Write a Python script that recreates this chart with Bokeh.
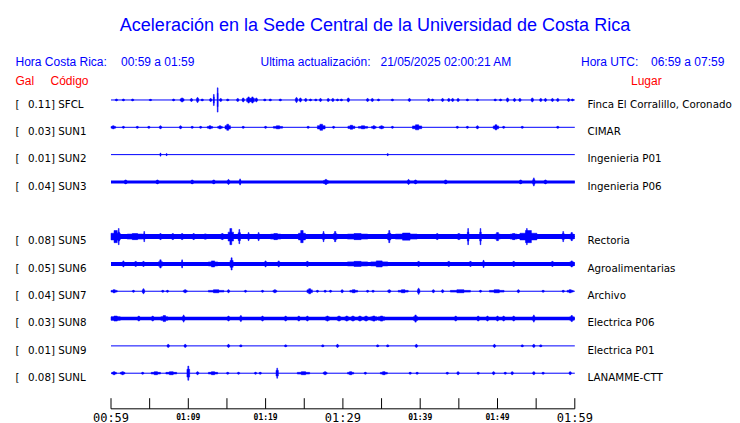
from bokeh.plotting import figure
from bokeh.models import Range1d
from bokeh.core.properties import value
from bokeh.embed import file_html
from bokeh.resources import INLINE

# ---------------- data ----------------
CODES = ["SFCL", "SUN1", "SUN2", "SUN3", "SUN5", "SUN6", "SUN7", "SUN8", "SUN9", "SUNL"]
GAL = [0.11, 0.03, 0.01, 0.04, 0.08, 0.05, 0.04, 0.03, 0.01, 0.08]
PLACES = ["Finca El Corralillo, Coronado", "CIMAR", "Ingenieria P01", "Ingenieria P06",
          "Rectoria", "Agroalimentarias", "Archivo", "Electrica P06", "Electrica P01", "LANAMME-CTT"]
SLOTS = [0, 1, 2, 3, 5, 6, 7, 8, 9, 10]          # SUN4 slot empty
NOISE = [0.5, 0.5, 0.5, 1.5, 2.5, 2.0, 0.5, 1.7, 0.5, 0.5]   # background half-amplitude

# bursts: (minute after 00:59, half-amplitude, [duration in minutes])
SFCL_B = [(0.7, 1), (1.6, 1), (2.8, 1), (5.1, 0.7), (8.1, 1), (9.2, 2, 0.5), (10.4, 1.5), (11.2, 2.5),
          (11.8, 1), (12.9, 1.5), (13.3, 5.5, 0.1), (13.8, 12, 0.1), (14.2, 1.5), (15.1, 1), (16.4, 1.5),
          (17.1, 2), (17.8, 3, 0.5), (18.3, 3, 0.5), (18.8, 2), (19.9, 1), (20.6, 1), (21.9, 1), (24.0, 2.5),
          (24.5, 2), (25.2, 1.5), (25.8, 1), (26.5, 1), (27.1, 1.5), (28.1, 1.5), (28.7, 1.5), (29.3, 1),
          (29.8, 1), (30.7, 2), (33.2, 1.5), (33.8, 1.5), (34.6, 1), (36.4, 1), (38.6, 1.5), (41.1, 1.5),
          (41.6, 1), (42.9, 1.5), (43.7, 1.5), (44.2, 1.5), (44.9, 1.5), (46.1, 1), (47.4, 1), (49.7, 1),
          (50.4, 1), (51.3, 2), (52.2, 1.5), (52.9, 1.5), (54.5, 2), (55.6, 1.5), (56.2, 1.5), (57.1, 1.5),
          (57.8, 1.5), (59.2, 1.5), (59.7, 1)]
SUN1_B = [(0.3, 1.5, 0.6), (1.6, 1), (3.4, 1), (4.9, 1), (6.4, 1.5), (9.0, 1.5), (10.5, 1), (11.6, 1),
          (12.8, 1.5, 0.7), (14.1, 1.5, 0.6), (15.1, 3, 0.7), (17.1, 1), (20.0, 1), (21.6, 1.5, 1.2),
          (25.5, 1), (27.2, 3, 1.0), (28.8, 1), (31.1, 2, 0.9), (32.6, 1.5, 1.2), (34.0, 1.5, 0.6),
          (35.0, 1.5, 0.6), (36.4, 1), (39.6, 2.5, 1.2), (44.8, 1), (46.1, 1), (47.4, 1.5),
          (49.8, 2.5, 0.7), (50.8, 1), (53.2, 1), (57.8, 1)]
SUN2_B = [(6.4, 1.5, 0.1), (7.2, 1, 0.1), (35.8, 1, 0.1)]
SUN3_B = [(1.9, 2), (6.0, 2), (10.5, 2), (13.3, 2), (15.2, 2.5), (16.7, 3, 0.2), (27.8, 2.5, 0.6),
          (38.5, 2.5), (39.4, 2), (43.3, 2), (53.0, 2), (54.7, 4, 0.3), (56.2, 2)]
SUN5_B = [(0.6, 6, 1.2), (1.0, 8, 0.2), (3.1, 3, 2.0), (4.3, 5, 0.15), (6.4, 3), (8.0, 3), (9.2, 3),
          (10.7, 3), (12.2, 2.5), (14.4, 3, 0.4), (15.5, 8, 0.7), (16.6, 7, 0.3), (17.8, 4), (19.1, 4),
          (21.3, 3, 1.3), (24.7, 6, 0.9), (27.5, 5), (29.0, 5, 0.5), (31.9, 3, 2.6), (36.0, 6, 0.4),
          (38.2, 3.5, 2.8), (42.2, 3), (45.0, 3, 0.4), (46.2, 8, 0.2), (47.8, 8, 0.2), (50.0, 4, 0.7),
          (52.1, 3, 0.9), (54.0, 6, 2.2), (53.8, 8, 0.2), (58.5, 5), (59.6, 4, 0.5)]
SUN6_B = [(1.6, 3), (3.2, 2.5), (4.2, 2.5), (6.4, 4, 0.5), (9.2, 4, 0.15), (13.2, 3, 1.2), (15.6, 6, 0.4),
          (20.0, 3), (21.7, 3), (25.4, 2.5), (31.9, 2.5, 2.6), (34.7, 3, 2.2), (39.8, 2.5), (43.7, 2.5),
          (46.5, 2.5), (48.2, 3.5), (52.1, 2.5), (57.1, 2.5), (59.6, 3, 0.5)]
SUN7_B = [(0.4, 1.5, 0.8), (2.9, 1), (4.2, 2.5), (6.7, 1), (7.3, 1), (9.6, 1.5, 0.5), (13.6, 1.5, 2.0),
          (15.2, 1.5), (17.4, 1), (19.6, 1), (21.2, 1.5, 0.5), (25.7, 2.5, 0.7), (26.7, 1), (27.7, 1),
          (28.4, 1), (29.9, 1.5), (31.4, 1.5, 1.0), (33.2, 1), (33.9, 1), (36.0, 1.5, 0.4),
          (37.8, 1.5, 1.3), (39.8, 3), (41.7, 1.5), (42.9, 1.5), (45.2, 1.5, 2.6), (47.8, 1),
          (49.9, 1.5, 1.9), (52.7, 1.5), (55.9, 1), (58.5, 1), (59.4, 1.5, 0.8)]
SUN8_B = [(0.6, 2.5, 1.2), (3.6, 2.5), (5.4, 2.5), (6.9, 3, 0.9), (9.4, 3.5), (15.2, 2.5), (16.8, 3),
          (19.6, 2.5), (22.6, 2.5), (24.3, 2.5), (25.4, 2.5), (28.0, 2.5, 0.5), (29.5, 2.5, 0.5),
          (30.5, 2.5, 0.5), (31.3, 2.5, 0.5), (32.2, 2.5, 0.5), (33.0, 2.5, 0.5), (34.0, 2.5, 0.8),
          (35.0, 2.5, 0.8), (39.4, 3.5, 0.5), (44.6, 2.5), (47.5, 2.5), (48.7, 2.5), (50.0, 2.5),
          (50.8, 2.5), (52.1, 2.5), (54.7, 3.5), (59.6, 3, 0.5)]
SUN9_B = [(7.4, 1.5), (9.6, 1.5), (15.2, 1.5), (16.8, 1), (22.6, 1), (27.4, 1), (29.3, 1.5), (34.5, 1),
          (35.8, 1), (39.5, 1.5), (49.6, 1.5), (53.2, 1), (54.7, 1.5), (55.6, 1)]
SUNL_B = [(0.4, 1.5, 0.6), (1.5, 1.5, 0.6), (4.1, 1), (5.8, 1.5, 1.2), (7.8, 1.5, 1.4), (10.0, 7, 0.35),
          (11.2, 1.5), (13.2, 1.5, 1.2), (15.1, 1), (16.5, 1), (18.7, 1), (19.3, 1), (21.5, 5, 0.3),
          (24.9, 1.5, 1.6), (27.7, 1.5, 0.5), (31.0, 1.5, 0.8), (32.9, 1), (35.3, 1.5, 0.9), (38.7, 1),
          (39.6, 1), (43.5, 1), (44.9, 1.5), (47.5, 1), (49.5, 1.5), (51.0, 1), (51.9, 1.5), (54.7, 1.5),
          (55.9, 1), (59.4, 1.5)]
BURSTS = [SFCL_B, SUN1_B, SUN2_B, SUN3_B, SUN5_B, SUN6_B, SUN7_B, SUN8_B, SUN9_B, SUNL_B]

TICK_MIN = list(range(0, 61, 5))
BIG_TICKS = [0, 30, 60]
BIG_LABELS = ["00:59", "01:29", "01:59"]
SMALL_TICKS = [10, 20, 40, 50]
SMALL_LABELS = ["01:09", "01:19", "01:39", "01:49"]

TITLE = "Aceleración en la Sede Central de la Universidad de Costa Rica"
HORA_CR = "00:59 a 01:59"
ACTUALIZ = "21/05/2025 02:00:21 AM"
HORA_UTC = "06:59 a 07:59"
SPAN_MIN = 60

# ---------------- layout ----------------
W, H = 740, 423
FRAME_TOP = 5         # the plot frame starts this far below the canvas top (measured)
PXMIN = 7.73          # pixels per minute
X0PX = 110.5          # page x of minute 0
Y0PX = 103.3          # page y of first trace
ROW = 27.0            # pixels between traces
AMP = 1.0 / ROW       # amplitude unit (1 px)


def PX(x):
    return (x - X0PX) / PXMIN


def PY(y):
    return (Y0PX - y) / ROW


BLUE = "#0000ff"
RED = "#ff0000"

p = figure(width=W, height=H, output_backend="svg", toolbar_location=None, title_location=None,
           x_range=Range1d(PX(0), PX(W)), y_range=Range1d(PY(H), PY(FRAME_TOP)),
           x_axis_location=None, y_axis_location=None, min_border=0)
p.grid.visible = False
p.outline_line_color = None

# traces
for code, slot, noise, bursts in zip(CODES, SLOTS, NOISE, BURSTS):
    yb = -slot
    p.segment(x0=[0], y0=[yb], x1=[SPAN_MIN], y1=[yb], line_color=BLUE, line_width=1)
    if noise > 0.6:
        p.quad(left=[0], right=[SPAN_MIN], bottom=[yb - noise * AMP], top=[yb + noise * AMP],
               fill_color=BLUE, line_color=None)
    L, R, B, T = [], [], [], []
    L2, R2, B2, T2 = [], [], [], []
    for b in bursts:
        t, a = b[0], b[1]
        w = b[2] if len(b) > 2 else 0.3
        outer = max(noise, 0.55 * a)
        L.append(max(0, t - w / 2)); R.append(min(SPAN_MIN, t + w / 2))
        B.append(yb - outer * AMP); T.append(yb + outer * AMP)
        wi = max(0.1, 0.35 * w)
        L2.append(max(0, t - wi / 2)); R2.append(min(SPAN_MIN, t + wi / 2))
        B2.append(yb - a * AMP); T2.append(yb + a * AMP)
    p.quad(left=L, right=R, bottom=B, top=T, fill_color=BLUE, line_color=BLUE, line_width=0.5)
    p.quad(left=L2, right=R2, bottom=B2, top=T2, fill_color=BLUE, line_color=BLUE, line_width=0.5)

# station labels
ys = [-s for s in SLOTS]
lab_off = -3.7 / ROW
p.text(x=[PX(15)] * len(ys), y=[y + lab_off for y in ys], text=["["] * len(ys),
       text_font=value("DejaVu Sans"), text_font_size="10.3px", text_color="black",
       text_baseline="alphabetic")
p.text(x=[PX(27.5)] * len(ys), y=[y + lab_off for y in ys],
       text=[f"{g:.2f}] {c}" for g, c in zip(GAL, CODES)],
       text_font=value("DejaVu Sans"), text_font_size="10.3px", text_color="black",
       text_baseline="alphabetic")
p.text(x=[PX(587)] * len(ys), y=[y + lab_off for y in ys], text=PLACES,
       text_font=value("DejaVu Sans"), text_font_size="10.3px", text_color="black",
       text_baseline="alphabetic")

# header
p.text(x=[PX(374.5)], y=[PY(29)], text=[TITLE], text_font=value("Liberation Sans"),
       text_font_size="18px", text_color=BLUE, text_align="center", text_baseline="alphabetic")
p.text(x=[PX(15), PX(120.5), PX(260), PX(380), PX(580.5), PX(650.5)], y=[PY(65.7)] * 6,
       text=["Hora Costa Rica:", HORA_CR, "Ultima actualización:", ACTUALIZ, "Hora UTC:", HORA_UTC],
       text_font=value("Liberation Sans"), text_font_size="12px", text_color=BLUE,
       text_baseline="alphabetic")
p.text(x=[PX(15), PX(50), PX(630.5)], y=[PY(84.7)] * 3, text=["Gal", "Código", "Lugar"],
       text_font=value("Liberation Sans"), text_font_size="12px", text_color=RED,
       text_baseline="alphabetic")

# time axis
ax_y = PY(408.5)
p.segment(x0=[0], y0=[ax_y], x1=[SPAN_MIN], y1=[ax_y], line_color="black", line_width=1)
p.segment(x0=TICK_MIN, y0=[ax_y] * len(TICK_MIN), x1=TICK_MIN, y1=[PY(398)] * len(TICK_MIN),
          line_color="black", line_width=1)
p.text(x=BIG_TICKS, y=[PY(417.5)] * len(BIG_TICKS), text=BIG_LABELS,
       text_font=value("DejaVu Sans Mono"), text_font_size="12px", text_color="black",
       text_align="center", text_baseline="alphabetic")
p.text(x=SMALL_TICKS, y=[PY(417)] * len(SMALL_TICKS), text=SMALL_LABELS,
       text_font=value("DejaVu Sans Mono"), text_font_size="8px", text_font_style="bold",
       text_color="black", text_align="center", text_baseline="alphabetic")

open("out.html", "w").write(file_html(p, INLINE))
